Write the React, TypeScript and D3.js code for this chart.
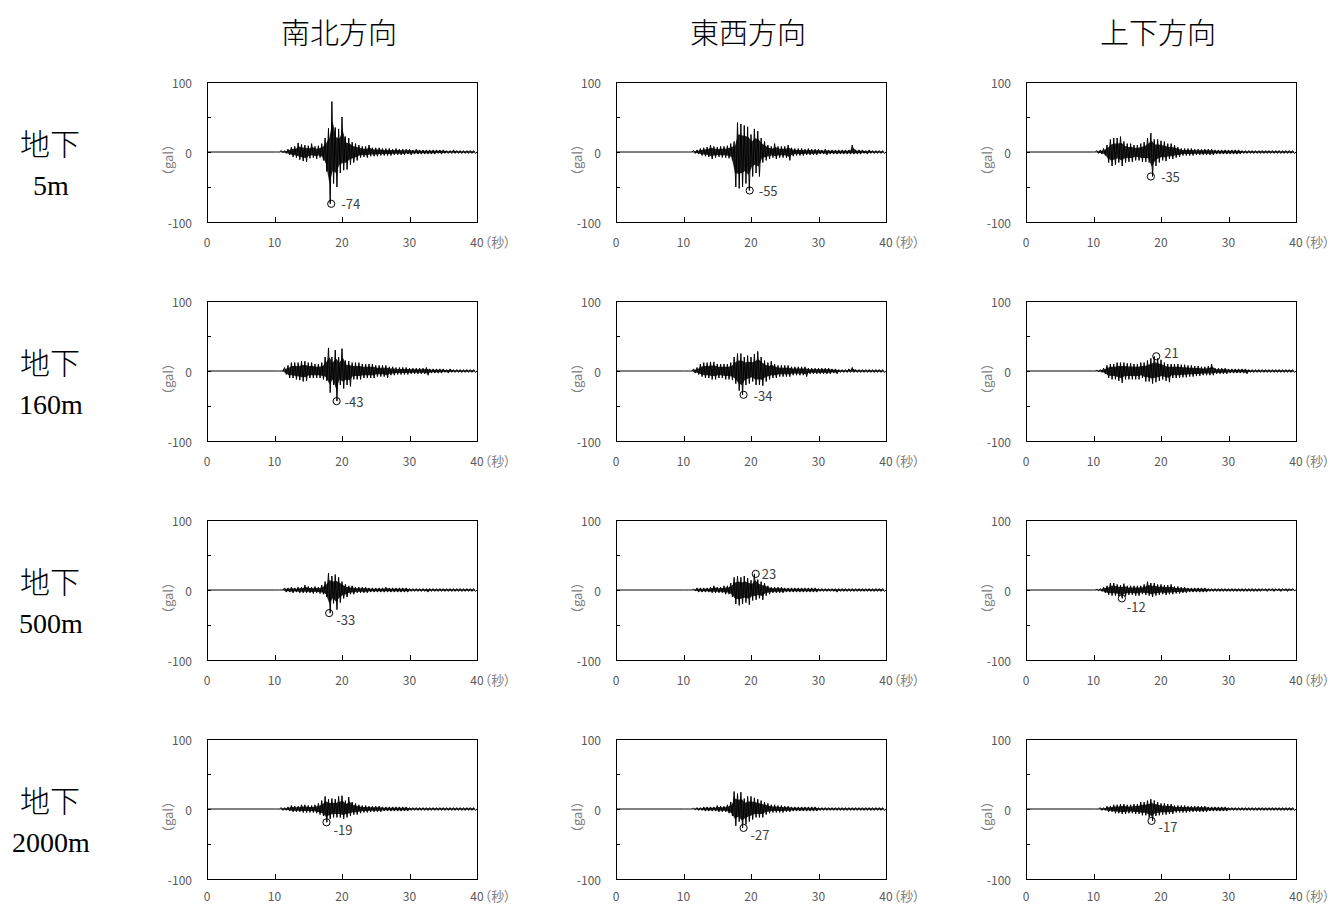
import * as d3 from 'd3'

const W = 1333
const H = 905
const COL_LEFTS = [207, 616, 1026]
const ROW_TOPS = [82, 301, 520, 739]
const ROW_XLABEL_GAP = [25, 25, 25, 22]
const PW = 270
const PH = 140

const directions = ['南北方向', '東西方向', '上下方向']
const depthPrefix = '地下'
const depths = ['5m', '160m', '500m', '2000m']
const xTicks = [0, 10, 20, 30, 40]
const yLabelTicks = [-100, 0, 100]
const yMinorTicks = [-50, 50]
const xUnit = '（秒）'
const yUnit = '（gal）'

// max / min of the record in each 0.5 s window, from 10 s to 39.5 s
const windowStart = 10
const windowStep = 0.5

const ns5mUp = [0,0,2,2,4,7,8,13,11,10, 9,12,8,9,12,20,34,72,35,33, 50,22,20,14,12,10,8,8,10,6, 6,6,5,5,5,4,5,4,4,4, 4,3,4,3,3,3,3,3,3,3, 3,2,2,3,2,2,2,2,2,2]
const ns5mDn = [0,0,-1,-2,-4,-7,-8,-11,-13,-14, -9,-8,-10,-8,-12,-28,-74,-45,-50,-30, -26,-25,-18,-15,-12,-8,-7,-8,-6,-6, -6,-5,-5,-5,-5,-4,-4,-4,-4,-3, -4,-3,-3,-3,-3,-3,-3,-3,-2,-3, -2,-2,-2,-2,-2,-2,-2,-2,-2,-2]
const ew5mUp = [0,0,0,2,3,5,6,7,10,8, 7,8,8,9,12,15,42,40,38,36, 25,33,30,20,15,10,8,12,8,8, 8,10,6,5,5,5,4,5,4,4, 4,3,4,3,3,3,3,3,3,3, 10,3,3,3,2,3,2,2,2,2]
const ew5mDn = [0,0,0,-2,-3,-5,-6,-7,-10,-8, -7,-8,-8,-9,-12,-50,-52,-50,-45,-55, -35,-30,-35,-15,-12,-10,-8,-10,-8,-8, -8,-12,-6,-5,-5,-5,-4,-4,-4,-4, -3,-3,-4,-3,-3,-3,-3,-3,-3,-3, -3,-3,-3,-2,-3,-2,-2,-2,-2,-2]
const ud5mUp = [0,2,3,5,10,18,20,20,22,15, 12,12,10,10,12,14,20,27,18,18, 16,15,12,12,10,7,5,5,5,5, 4,4,4,4,4,4,3,3,3,3, 3,3,3,3,2,2,2,2,2,2, 2,2,2,2,2,2,2,2,2,2]
const ud5mDn = [0,-2,-3,-5,-15,-20,-18,-15,-20,-15, -14,-14,-12,-12,-14,-14,-15,-35,-20,-15, -12,-13,-10,-10,-8,-7,-5,-5,-5,-5, -4,-4,-4,-4,-4,-4,-3,-3,-3,-3, -3,-3,-3,-3,-2,-2,-2,-2,-2,-2, -2,-2,-2,-2,-2,-2,-2,-2,-2,-2]

const ns160mUp = [0,0,0,5,8,12,12,12,14,14, 12,12,10,10,12,20,33,20,30,20, 32,15,14,12,12,12,10,10,10,10, 8,8,8,8,6,6,5,5,5,5, 4,4,4,4,4,5,3,3,3,3, 3,2,3,2,2,2,2,2,2,2]
const ns160mDn = [0,0,0,-5,-10,-10,-12,-13,-15,-14, -10,-10,-10,-10,-12,-14,-31,-20,-43,-20, -25,-20,-22,-12,-12,-12,-10,-10,-10,-10, -8,-8,-8,-10,-6,-6,-5,-5,-5,-5, -4,-4,-4,-4,-4,-6,-3,-3,-3,-3, -2,-3,-2,-2,-2,-2,-2,-2,-2,-2]
const ew160mUp = [0,0,0,3,5,10,12,12,13,13, 10,10,10,10,12,20,25,25,20,22, 20,24,28,20,15,12,14,10,8,8, 8,8,6,6,6,6,6,4,4,4, 4,4,4,4,3,3,2,2,2,3, 5,2,2,2,2,2,2,2,2,2]
const ew160mDn = [0,0,0,-3,-5,-8,-10,-10,-12,-12, -10,-10,-12,-12,-13,-18,-28,-34,-20,-18, -15,-20,-20,-21,-15,-12,-10,-10,-8,-8, -8,-8,-6,-6,-6,-6,-8,-4,-4,-4, -4,-4,-4,-4,-3,-4,-2,-2,-2,-2, -2,-2,-2,-2,-2,-2,-2,-2,-2,-2]
const ud160mUp = [0,1,2,4,8,10,10,12,12,12, 11,11,10,10,12,12,15,18,21,18, 16,12,10,10,10,10,9,9,8,8, 7,7,6,6,7,10,4,4,4,4, 3,3,3,3,3,3,2,2,2,2, 2,2,2,2,2,2,2,2,2,2]
const ud160mDn = [0,-1,-2,-4,-10,-12,-12,-14,-17,-12, -12,-12,-12,-12,-10,-15,-15,-18,-16,-14, -12,-14,-16,-10,-10,-10,-9,-9,-8,-8, -7,-7,-6,-6,-6,-6,-4,-4,-4,-4, -3,-3,-3,-3,-3,-4,-2,-2,-2,-2, -2,-2,-2,-2,-2,-2,-2,-2,-2,-2]

const ns500mUp = [0,0,0,3,3,4,3,4,4,7, 5,4,5,4,7,12,24,20,22,18, 12,8,6,6,4,4,4,4,3,3, 3,3,3,4,3,3,3,3,3,3, 2,2,2,2,2,2,2,2,2,2, 2,2,2,2,2,2,2,2,2,2]
const ns500mDn = [0,0,0,-3,-3,-4,-3,-4,-4,-4, -4,-5,-4,-5,-6,-10,-33,-19,-28,-18, -12,-10,-6,-6,-4,-4,-4,-4,-3,-3, -3,-3,-3,-3,-3,-3,-3,-3,-3,-3, -2,-2,-2,-2,-2,-3,-2,-2,-2,-2, -2,-2,-2,-2,-2,-2,-2,-2,-2,-2]
const ew500mUp = [0,0,0,1,3,3,3,3,4,6, 4,4,6,6,10,18,20,18,20,17, 14,23,15,12,10,6,4,4,4,4, 3,3,3,3,3,3,3,3,3,3, 2,2,2,2,2,2,2,2,2,2, 2,2,2,2,2,2,2,2,2,2]
const ew500mDn = [0,0,0,-1,-3,-3,-3,-3,-4,-4, -4,-4,-6,-6,-10,-20,-22,-20,-18,-21, -15,-14,-12,-14,-8,-6,-4,-4,-4,-4, -3,-3,-3,-3,-3,-3,-3,-3,-3,-3, -2,-2,-2,-2,-2,-3,-2,-2,-2,-2, -2,-2,-2,-2,-2,-2,-2,-2,-2,-2]
const ud500mUp = [0,1,2,4,6,10,10,8,7,9, 6,6,6,6,6,8,12,10,10,8, 8,7,7,8,5,5,4,4,3,3, 3,3,3,3,2,2,2,2,2,2, 2,2,2,2,2,2,2,2,2,2, 2,2,2,2,2,2,2,2,2,2]
const ud500mDn = [0,-1,-2,-4,-7,-8,-8,-9,-12,-9, -7,-7,-8,-8,-6,-7,-8,-10,-8,-7, -6,-7,-6,-6,-5,-5,-4,-4,-3,-3, -3,-3,-3,-3,-2,-2,-2,-2,-2,-2, -2,-2,-2,-2,-2,-2,-2,-2,-2,-2, -1,-2,-1,-2,-1,-2,-1,-2,-1,-1]

const ns2000mUp = [0,0,2,2,3,5,4,4,6,6, 5,5,6,8,12,18,14,15,14,18, 19,12,17,10,8,6,5,5,4,4, 4,4,3,3,3,3,3,3,3,3, 2,2,2,2,2,2,2,2,2,2, 2,2,2,2,2,2,2,2,2,2]
const ns2000mDn = [0,0,-2,-2,-3,-4,-4,-4,-5,-5, -5,-5,-6,-8,-10,-19,-14,-12,-12,-12, -14,-12,-10,-8,-8,-6,-5,-5,-4,-4, -4,-4,-3,-3,-3,-3,-3,-3,-3,-3, -2,-2,-2,-2,-2,-2,-2,-2,-2,-2, -2,-2,-2,-2,-2,-2,-2,-2,-2,-2]
const ew2000mUp = [0,0,0,1,2,2,3,3,3,3, 5,4,4,6,10,25,22,24,15,18, 18,16,14,12,10,8,6,6,5,5, 4,4,3,3,3,3,3,3,3,3, 2,2,2,2,2,2,2,2,2,2, 2,2,2,2,2,2,2,2,2,2]
const ew2000mDn = [0,0,0,-1,-2,-2,-3,-3,-3,-3, -4,-4,-4,-6,-10,-24,-18,-27,-22,-18, -15,-12,-12,-12,-8,-6,-5,-5,-5,-5, -4,-4,-3,-3,-3,-3,-3,-3,-3,-3, -2,-2,-2,-2,-2,-2,-2,-2,-2,-2, -2,-2,-2,-2,-2,-2,-2,-2,-2,-2]
const ud2000mUp = [0,0,2,2,4,4,6,6,7,7, 6,6,7,7,10,10,12,14,12,10, 8,8,7,7,5,5,5,5,4,4, 4,4,4,4,3,3,3,3,3,3, 2,2,2,2,2,2,2,2,2,2, 2,2,2,2,2,2,2,2,2,2]
const ud2000mDn = [0,0,-2,-2,-4,-4,-6,-6,-7,-7, -6,-6,-7,-7,-9,-9,-12,-17,-10,-9, -8,-8,-7,-7,-5,-5,-5,-5,-4,-4, -4,-4,-4,-4,-3,-3,-3,-3,-3,-3, -2,-2,-2,-2,-2,-2,-2,-2,-2,-2, -2,-2,-2,-2,-2,-2,-2,-2,-2,-2]

// marked peak of each record: time (s) and value (gal), rows = depth, cols = direction
const peakTimes = [
  [18.4, 19.8, 18.5],
  [19.2, 18.9, 19.3],
  [18.1, 20.7, 14.2],
  [17.7, 18.9, 18.6],
]
const peakValues = [
  [-74, -55, -35],
  [-43, -34, 21],
  [-33, 23, -12],
  [-19, -27, -17],
]
// where each peak label sits relative to its circle (px)
const peakLabelOffsets = [
  [[10, 0], [9, 0], [10, 0]],
  [[8, 0], [10, 1], [8, -4]],
  [[7, 6], [6, 0], [5, 8]],
  [[7, 7], [7, 7], [7, 6]],
]

const records = [
  [[ns5mUp, ns5mDn], [ew5mUp, ew5mDn], [ud5mUp, ud5mDn]],
  [[ns160mUp, ns160mDn], [ew160mUp, ew160mDn], [ud160mUp, ud160mDn]],
  [[ns500mUp, ns500mDn], [ew500mUp, ew500mDn], [ud500mUp, ud500mDn]],
  [[ns2000mUp, ns2000mDn], [ew2000mUp, ew2000mDn], [ud2000mUp, ud2000mDn]],
]

const SMALL = '"Noto Sans CJK JP", "Noto Sans", sans-serif'
const TICK_COLOR = '#595959'
const UNIT_COLOR = '#808080'

type Pt = [number, number]

function Panel({ left, top, labelGap, up, dn, peakT, peakV, off }: {
  left: number; top: number; labelGap: number; up: number[]; dn: number[]
  peakT: number; peakV: number; off: number[]
}) {
  const x = d3.scaleLinear().domain([0, 40]).range([left, left + PW])
  const y = d3.scaleLinear().domain([-100, 100]).range([top + PH, top])

  // zigzag through the window maxima and minima
  const pts: Pt[] = [[0, 0]]
  up.forEach((u, i) => {
    const t = windowStart + i * windowStep
    pts.push([t, u])
    pts.push([t + windowStep / 2, dn[i]])
  })
  pts.push([40, 0])
  const line = d3.line<Pt>().x(d => x(d[0])).y(d => y(d[1]))

  // dense core of the trace
  const area = d3.area<number>()
    .x((_, i) => x(windowStart + i * windowStep + windowStep / 4))
    .y0((_, i) => y(dn[i] * 0.6))
    .y1(u => y(u * 0.6))

  const cx = x(peakT)
  const cy = y(peakV)
  const bottom = top + PH
  const labelY = bottom + labelGap

  return (
    <g>
      <path d={area(up) || ''} fill="#000" fillOpacity={0.85} />
      <path d={line(pts) || ''} fill="none" stroke="#000" strokeWidth={1} />
      <rect x={left + 0.5} y={top + 0.5} width={PW} height={PH} fill="none" stroke="#000" strokeWidth={1} />
      {yMinorTicks.concat(yLabelTicks).map(v => (
        <line key={'yt' + v} x1={left} x2={left + 4} y1={Math.round(y(v)) + 0.5} y2={Math.round(y(v)) + 0.5} stroke="#000" />
      ))}
      {xTicks.slice(1, -1).map(v => (
        <line key={'xt' + v} x1={Math.round(x(v)) + 0.5} x2={Math.round(x(v)) + 0.5} y1={bottom} y2={bottom - 5} stroke="#000" />
      ))}
      {yLabelTicks.map(v => (
        <text key={'yl' + v} x={left - 15} y={y(v)} textAnchor="end" dominantBaseline="central"
          fontFamily={SMALL} fontSize={12} fill={TICK_COLOR}>{v}</text>
      ))}
      {xTicks.slice(0, -1).map(v => (
        <text key={'xl' + v} x={x(v)} y={labelY} textAnchor="middle"
          fontFamily={SMALL} fontSize={12} fill={TICK_COLOR}>{v}</text>
      ))}
      <text x={x(40) - 6.7} y={labelY} fontFamily={SMALL} fontSize={12} fill={TICK_COLOR}
        style={{ fontFeatureSettings: '"palt"' }}>
        {xTicks[xTicks.length - 1]}
        <tspan dx={1} fontSize={13} fill={UNIT_COLOR}>{xUnit}</tspan>
      </text>
      <text transform={`translate(${left - 40},${y(0) + 8}) rotate(-90)`} textAnchor="middle" dominantBaseline="central"
        fontFamily={SMALL} fontSize={13} fill={UNIT_COLOR}>{yUnit}</text>
      <circle cx={cx} cy={cy} r={3.6} fill="none" stroke="#000" strokeWidth={1} />
      <text x={cx + off[0]} y={cy + off[1]} dominantBaseline="central" fontFamily={SMALL} fontSize={13} fill="#404040">
        {peakV}
      </text>
    </g>
  )
}

export default function App() {
  return (
    <svg width={W} height={H} style={{ position: 'absolute', left: 0, top: 0, background: '#fff' }}>
      {directions.map((d, c) => (
        <text key={d} x={COL_LEFTS[c] + PW / 2 - 3} y={44} textAnchor="middle"
          fontFamily='"Noto Sans CJK JP", sans-serif' fontWeight={300} fontSize={29} fill="#000">{d}</text>
      ))}
      {depths.map((dep, r) => {
        const zero = ROW_TOPS[r] + PH / 2
        return (
          <g key={dep}>
            <text x={50} y={zero + 3} textAnchor="middle" fontFamily='"Noto Sans CJK JP", sans-serif'
              fontWeight={300} fontSize={30} fill="#000">
              {depthPrefix}
            </text>
            <text x={51} y={zero + 43} textAnchor="middle" fontFamily='"Liberation Serif", serif' fontSize={28} fill="#000">
              {dep}
            </text>
          </g>
        )
      })}
      {records.map((row, r) => row.map(([up, dn], c) => (
        <Panel key={r + '-' + c} left={COL_LEFTS[c]} top={ROW_TOPS[r]} labelGap={ROW_XLABEL_GAP[r]} up={up} dn={dn}
          peakT={peakTimes[r][c]} peakV={peakValues[r][c]} off={peakLabelOffsets[r][c]} />
      )))}
    </svg>
  )
}
